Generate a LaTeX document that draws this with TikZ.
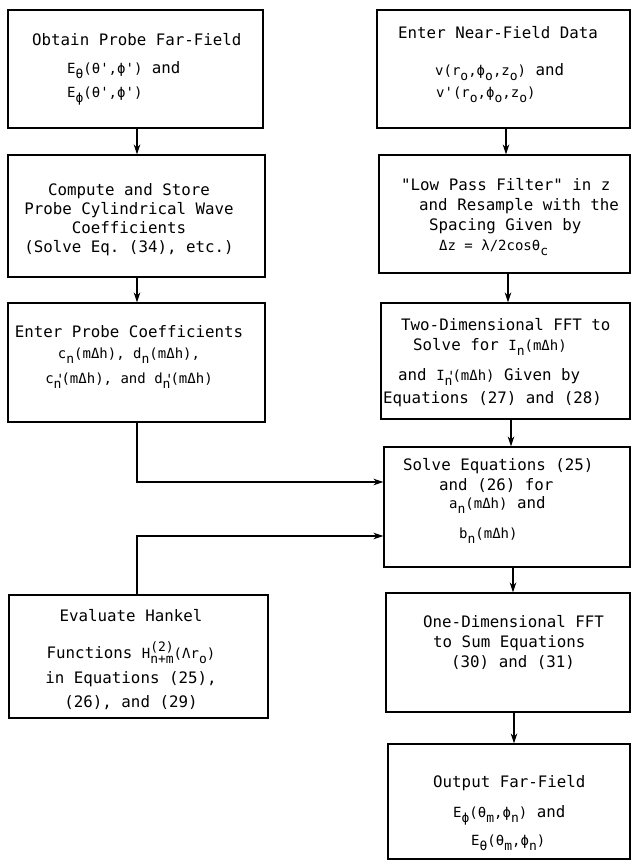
\documentclass[tikz,border=0pt]{standalone}
\usepackage{fontspec}
\setmonofont{DejaVu Sans Mono}
\usetikzlibrary{arrows.meta}
\lineskiplimit=-100pt
\newcommand\mm[1]{{\fontsize{14}{14}\selectfont #1}}
\newcommand\lo[1]{\raisebox{-5pt}{\fontsize{13}{13}\selectfont #1}}
\newcommand\ls[2]{\rlap{\raisebox{7pt}{\fontsize{13}{13}\selectfont #1}}\raisebox{-5pt}{\fontsize{13}{13}\selectfont #2}}
\newcommand\pr[1]{\rlap{\raisebox{-1pt}{\fontsize{14}{14}\selectfont\,'}}\raisebox{-5pt}{\fontsize{13}{13}\selectfont #1}}
\tikzset{
  box/.style={draw, line width=1.1pt, rectangle, inner sep=0pt},
  txt/.style={inner sep=0pt, font=\ttfamily\fontsize{15.8}{20}\selectfont},
  txtl/.style={txt, align=left, anchor=north west},
  txtc/.style={txt, align=center, anchor=north},
  arr/.style={line width=1.1pt, -{Stealth[length=10pt,width=6.5pt]}}
}
\begin{document}
\begin{tikzpicture}[x=1pt,y=-1pt]
\useasboundingbox (0,0) rectangle (632,861);
% boxes
\node[box, minimum width=255pt, minimum height=118pt] (L1) at (135.5,69) {};
\node[box, minimum width=257pt, minimum height=122pt] (L2) at (136.5,216) {};
\node[box, minimum width=257pt, minimum height=119pt] (L3) at (136.5,362.5) {};
\node[box, minimum width=259pt, minimum height=123pt] (L4) at (138.5,656.5) {};
\node[box, minimum width=253pt, minimum height=118pt] (R1) at (503.5,69) {};
\node[box, minimum width=251pt, minimum height=118pt] (R2) at (504.5,214) {};
\node[box, minimum width=249pt, minimum height=116pt] (R3) at (505.5,361) {};
\node[box, minimum width=246pt, minimum height=120pt] (R4) at (507,507) {};
\node[box, minimum width=244pt, minimum height=119pt] (R5) at (508,652.5) {};
\node[box, minimum width=242pt, minimum height=115pt] (R6) at (509,801.5) {};
% texts
\node[txtl] (L1t) at (32,33) {Obtain Probe Far-Field\\[8pt]
\hspace*{35pt}\mm{E\lo{θ}(θ',ϕ')} and\\[4pt]
\hspace*{35pt}\mm{E\lo{ϕ}(θ',ϕ')}};
\node[txtc] (L2t) at (129,183) {Compute and Store\\[-1pt]
Probe Cylindrical Wave\\[-1pt]
Coefficients\\[-1pt]
(Solve Eq. (34), etc.)};
\node[txtc] (L3t) at (129,325) {Enter Probe Coefficients\\[1pt]
\mm{c\lo{n}(mΔh), d\lo{n}(mΔh),}\\[5pt]
\mm{c\pr{n}(mΔh), and d\pr{n}(mΔh)}};
\node[txtc] (L4t) at (131,609) {Evaluate Hankel\\[17pt]
Functions \mm{H\ls{(2)}{n+m}(Λr\lo{o})}\\[5pt]
in Equations (25),\\[4pt]
(26), and (29)};
\node[txtl] (R1t) at (398,26) {Enter Near-Field Data\\[17pt]
\hspace*{37pt}\mm{v(r\lo{o},ϕ\lo{o},z\lo{o})} and\\[2pt]
\hspace*{38pt}\mm{v'(r\lo{o},ϕ\lo{o},z\lo{o})}};
\node[txtl] (R2t) at (401,178) {"Low Pass Filter" in z\\
\hspace*{18pt}and Resample with the\\
\hspace*{28pt}Spacing Given by\\
\hspace*{38pt}\mm{Δz = λ/2cosθ\lo{c}}};
\node[txtl] (R3t) at (383,318) {\hspace*{18pt}Two-Dimensional FFT to\\
\hspace*{30pt}Solve for \mm{I\lo{n}(mΔh)}\\[10pt]
\hspace*{15pt}and \mm{I\pr{n}(mΔh)} Given by\\[3pt]
Equations (27) and (28)};
\node[txtl] (R4t) at (403,458) {Solve Equations (25)\\
\hspace*{36pt}and (26) for\\[-2pt]
\hspace*{46pt}\mm{a\lo{n}(mΔh)} and\\[10pt]
\hspace*{56pt}\mm{b\lo{n}(mΔh)}};
\node[txtl] (R5t) at (423,615) {One-Dimensional FFT\\
\hspace*{10pt}to Sum Equations\\
\hspace*{28pt}(30) and (31)};
\node[txtl] (R6t) at (433,775) {Output Far-Field\\[10pt]
\hspace*{20pt}\mm{E\lo{ϕ}(θ\lo{m},ϕ\lo{n})} and\\[8pt]
\hspace*{38pt}\mm{E\lo{θ}(θ\lo{m},ϕ\lo{n})}};
% connectors
\coordinate (inA) at ([yshift=25pt]R4.west);
\coordinate (inB) at ([yshift=-29pt]R4.west);
\draw[arr] ([xshift=1.5pt]L1.south) -- ([xshift=1.5pt]L1.south |- L2.north);
\draw[arr] ([xshift=0.5pt]L2.south) -- ([xshift=0.5pt]L2.south |- L3.north);
\draw[arr] ([xshift=0.5pt]L3.south) |- (inA);
\draw[arr] ([xshift=-1.5pt]L4.north) |- (inB);
\draw[arr] ([xshift=2.5pt]R1.south) -- ([xshift=2.5pt]R1.south |- R2.north);
\draw[arr] ([xshift=3.5pt]R2.south) -- ([xshift=3.5pt]R2.south |- R3.north);
\draw[arr] ([xshift=5.5pt]R3.south) -- ([xshift=5.5pt]R3.south |- R4.north);
\draw[arr] ([xshift=6pt]R4.south) -- ([xshift=6pt]R4.south |- R5.north);
\draw[arr] ([xshift=6pt]R5.south) -- ([xshift=6pt]R5.south |- R6.north);
\end{tikzpicture}
\end{document}
